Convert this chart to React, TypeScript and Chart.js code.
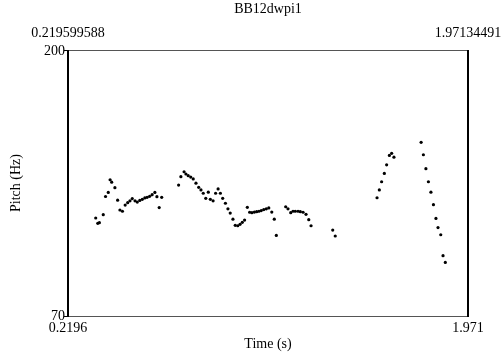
import React, { useEffect, useRef } from "react";
import { Chart, registerables } from "chart.js";

Chart.register(...registerables);

const chartTitle = "BB12dwpi1";
const xAxisTitle = "Time (s)";
const yAxisTitle = "Pitch (Hz)";
const xMin = 0.219599588;
const xMax = 1.97134491;
const yMin = 70;
const yMax = 200;
const topTickLabels = ["0.219599588", "1.97134491"];
const bottomTickLabels = ["0.2196", "1.971"];
const leftTickLabels = ["70", "200"];

const times = [
  0.341, 0.350, 0.357, 0.374, 0.384, 0.396, 0.404, 0.411, 0.425, 0.437,
  0.447, 0.458, 0.470, 0.481, 0.491, 0.501, 0.513, 0.523, 0.534, 0.545,
  0.556, 0.566, 0.577, 0.588, 0.600, 0.609, 0.619, 0.630,
  0.704, 0.714, 0.728, 0.736, 0.746, 0.757, 0.768, 0.780, 0.792, 0.802,
  0.812, 0.823, 0.834, 0.843, 0.855, 0.866, 0.877, 0.887, 0.897, 0.909,
  0.920, 0.930, 0.942, 0.952, 0.963, 0.973, 0.983, 0.993,
  1.005, 1.015, 1.025, 1.036, 1.046, 1.056, 1.066, 1.077, 1.088, 1.099,
  1.112, 1.123, 1.132,
  1.173, 1.183, 1.195, 1.205, 1.215, 1.227, 1.237, 1.249, 1.262, 1.274, 1.284,
  1.379, 1.390,
  1.573, 1.583, 1.593, 1.605, 1.615, 1.627, 1.637, 1.647,
  1.766, 1.776, 1.787, 1.798, 1.809, 1.820, 1.831, 1.840, 1.852, 1.862, 1.872,
];

const pitches = [
  117.9, 115.3, 115.6, 119.5, 128.4, 130.4, 136.6, 135.4, 132.7, 126.6,
  121.8, 121.2, 124.2, 125.4, 126.3, 127.4, 126.3, 125.7, 126.5, 127.0,
  127.7, 128.0, 128.5, 129.3, 130.4, 128.3, 123.0, 128.0,
  134.0, 138.1, 140.5, 139.4, 138.6, 137.9, 137.0, 134.9, 132.9, 131.6,
  130.0, 127.5, 130.5, 127.0, 126.3, 130.0, 132.1, 130.0, 127.5, 125.1,
  122.4, 120.3, 117.3, 114.3, 114.1, 114.8, 115.8, 116.9,
  123.1, 120.7, 120.5, 120.8, 121.0, 121.2, 121.5, 122.0, 122.4, 122.8,
  120.8, 117.3, 109.4,
  123.4, 122.4, 120.5, 121.2, 121.2, 121.2, 121.0, 120.7, 119.7, 117.1, 114.1,
  112.0, 109.1,
  127.8, 131.6, 135.6, 139.7, 143.9, 148.5, 149.5, 147.6,
  154.9, 148.8, 142.0, 135.6, 130.5, 124.4, 117.7, 113.2, 109.7, 99.5, 96.2,
];

const FONT = '14px "Liberation Serif", "Times New Roman", serif';

const framePlugin = {
  id: "praatFrame",
  afterDatasetsDraw(chart: any) {
    const ctx = chart.ctx as CanvasRenderingContext2D;
    const xs = chart.scales.x;
    const ys = chart.scales.y;
    const L = xs.getPixelForValue(xMin);
    const R = xs.getPixelForValue(xMax);
    const T = ys.getPixelForValue(yMax);
    const B = ys.getPixelForValue(yMin);
    ctx.save();
    // top & bottom thin lines
    ctx.strokeStyle = "#555";
    ctx.lineWidth = 1;
    ctx.beginPath();
    ctx.moveTo(L, T + 0.5);
    ctx.lineTo(R, T + 0.5);
    ctx.moveTo(L, B + 0.5);
    ctx.lineTo(R, B + 0.5);
    ctx.stroke();
    // left & right thick lines
    ctx.strokeStyle = "#000";
    ctx.lineWidth = 2;
    ctx.beginPath();
    ctx.moveTo(L, T);
    ctx.lineTo(L, B + 1);
    ctx.moveTo(R, T);
    ctx.lineTo(R, B + 1);
    ctx.stroke();
    // left ticks
    ctx.lineWidth = 1;
    ctx.strokeStyle = "#000";
    ctx.beginPath();
    [yMin, yMax].forEach((v) => {
      const p = Math.round(ys.getPixelForValue(v)) + 0.5;
      ctx.moveTo(L - 4, p);
      ctx.lineTo(L, p);
    });
    ctx.stroke();

    ctx.fillStyle = "#000";
    ctx.font = FONT;
    // title
    ctx.textAlign = "center";
    ctx.textBaseline = "middle";
    ctx.fillText(chartTitle, (L + R) / 2, 9);
    // top labels
    ctx.fillText(topTickLabels[0], L, 33);
    ctx.fillText(topTickLabels[1], R, 33);
    // bottom labels
    ctx.fillText(bottomTickLabels[0], L, B + 12);
    ctx.fillText(bottomTickLabels[1], R, B + 12);
    ctx.fillText(xAxisTitle, (L + R) / 2, B + 28);
    // left labels
    ctx.textAlign = "right";
    ctx.fillText(leftTickLabels[0], L - 3, ys.getPixelForValue(yMin));
    ctx.fillText(leftTickLabels[1], L - 3, ys.getPixelForValue(yMax) + 1);
    // y title
    ctx.save();
    ctx.translate(16, (T + B) / 2);
    ctx.rotate(-Math.PI / 2);
    ctx.textAlign = "center";
    ctx.fillText(yAxisTitle, 0, 0);
    ctx.restore();
    ctx.restore();
  },
};

export default function App() {
  const ref = useRef<HTMLCanvasElement | null>(null);
  useEffect(() => {
    if (!ref.current) return;
    const chart = new Chart(ref.current, {
      type: "scatter",
      data: {
        datasets: [
          {
            data: times.map((t, i) => ({ x: t, y: pitches[i] })),
            backgroundColor: "#000",
            borderColor: "#000",
            pointRadius: 1.6,
            pointBorderWidth: 0,
            showLine: false,
          },
        ],
      },
      options: {
        responsive: false,
        animation: false,
        devicePixelRatio: 1,
        layout: { padding: { left: 68, right: 34, top: 50, bottom: 38 } },
        plugins: { legend: { display: false }, tooltip: { enabled: false }, title: { display: false } },
        scales: {
          x: { type: "linear", min: xMin, max: xMax, display: false },
          y: { type: "linear", min: yMin, max: yMax, display: false },
        },
      },
      plugins: [framePlugin],
    });
    return () => chart.destroy();
  }, []);
  return (
    <div style={{ position: "fixed", left: 0, top: 0, width: 502, height: 354, background: "#fff" }}>
      <canvas ref={ref} width={502} height={354} style={{ display: "block" }} />
    </div>
  );
}
